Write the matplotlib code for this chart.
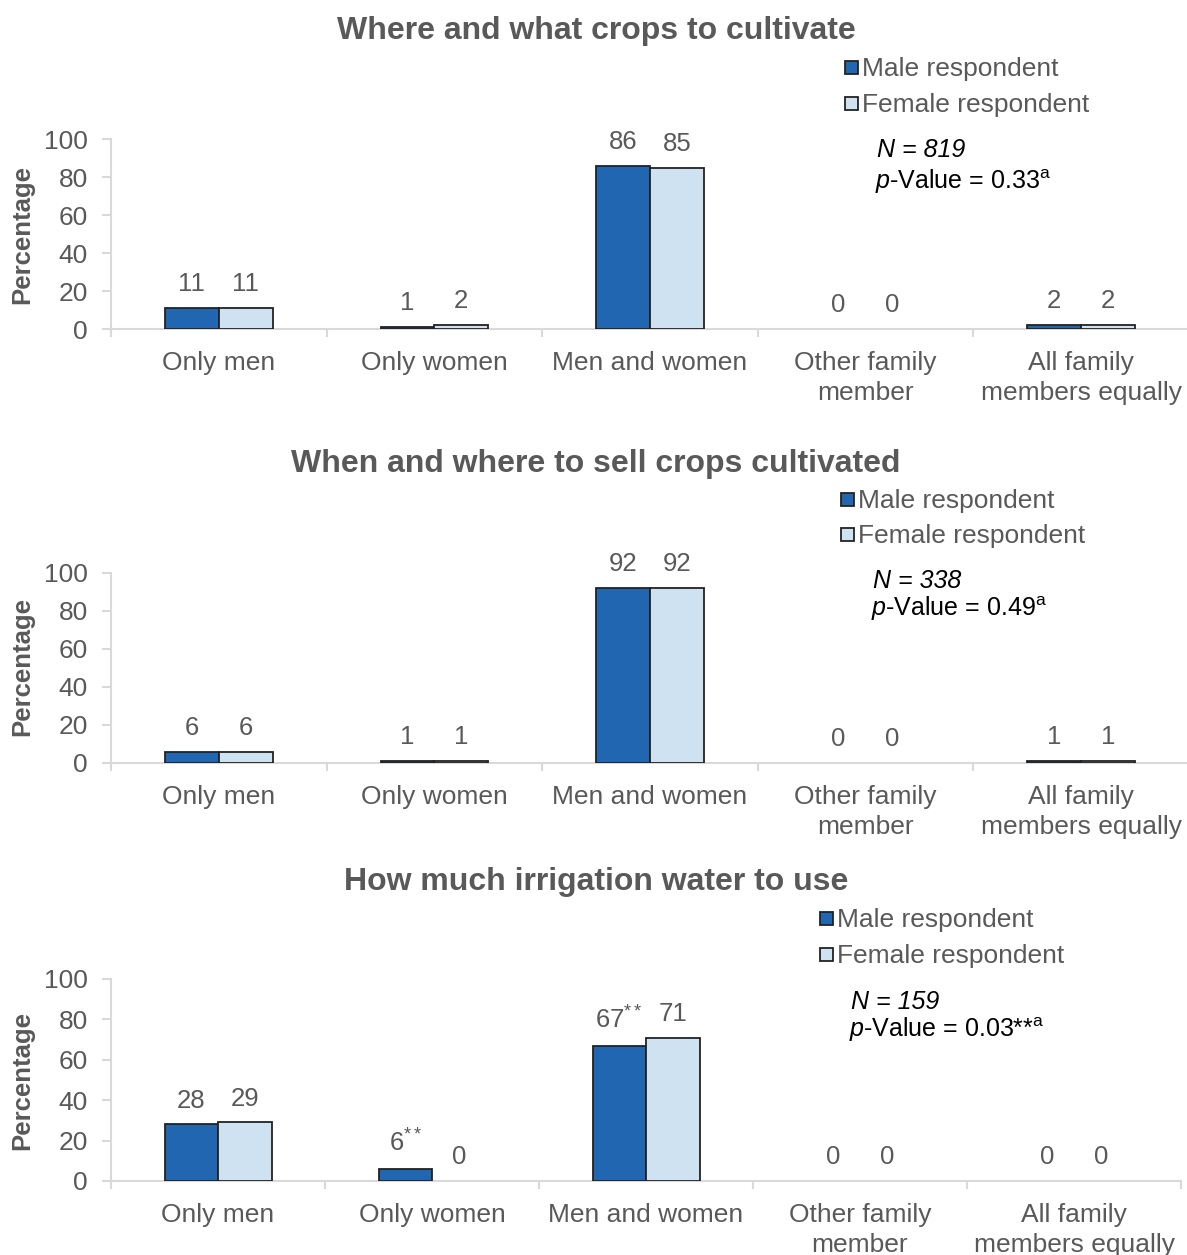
import numpy as np
import matplotlib
matplotlib.use("Agg")
import matplotlib.pyplot as plt

plt.rcParams['font.family'] = ['Liberation Sans', 'DejaVu Sans']
plt.rcParams['mathtext.fontset'] = 'custom'
plt.rcParams['mathtext.rm'] = 'Liberation Sans'
plt.rcParams['mathtext.it'] = 'Liberation Sans:italic'

# data
categories = ["Only men", "Only women", "Men and women", "Other family\nmember",
              "All family\nmembers equally"]
titles = ["Where and what crops to cultivate",
          "When and where to sell crops cultivated",
          "How much irrigation water to use"]
male = [[11, 1, 86, 0, 2],
        [6, 1, 92, 0, 1],
        [28, 6, 67, 0, 0]]
female = [[11, 2, 85, 0, 2],
          [6, 1, 92, 0, 1],
          [29, 0, 71, 0, 0]]
male_labels = [["11", "1", "86", "0", "2"],
               ["6", "1", "92", "0", "1"],
               ["28", "6$^{**}$", "67$^{**}$", "0", "0"]]
female_labels = [["11", "2", "85", "0", "2"],
                 ["6", "1", "92", "0", "1"],
                 ["29", "0", "71", "0", "0"]]
series_names = ["Male respondent", "Female respondent"]
n_values = ["819", "338", "159"]
p_values = ["0.33", "0.49", "0.03"]
p_marks = ["", "", "**"]

W, H = 1187, 1255
fig = plt.figure(figsize=(W / 100, H / 100), dpi=100)

GRAY = '#595959'
AXIS = '#d9d9d9'
EDGE = '#222222'
C_MALE = '#2166b1'
C_FEMALE = '#cfe2f2'
FS = 19

# layout in pixels: (left, right, y0, y100, title_y, ylabel_y, legend_x, legend_y1, legend_y2, n_x, n_y, p_y)
layout = [
    (111, 1189, 329, 139, 31, 234, 851, 69, 105, 877, 150, 182),
    (111, 1189, 763, 573, 464, 667, 847, 501, 536, 873, 581, 609),
    (111, 1181, 1181, 979, 882, 1080, 826, 920, 956, 851, 1002, 1030),
]

for k in range(3):
    left, right, y0, y100, ty, yly, lx, ly1, ly2, nx, ny, py = layout[k]
    ax = fig.add_axes([left / W, 1 - y0 / H, (right - left) / W, (y0 - y100) / H])
    x = np.arange(len(categories))
    w = 0.25
    m = np.array(male[k])
    f = np.array(female[k])
    ax.bar(x - w / 2, m, w, color=C_MALE,
           edgecolor=[EDGE if v > 0 else 'none' for v in m], linewidth=1.3, zorder=3)
    ax.bar(x + w / 2, f, w, color=C_FEMALE,
           edgecolor=[EDGE if v > 0 else 'none' for v in f], linewidth=1.3, zorder=3)
    for i in range(len(categories)):
        ax.annotate(male_labels[k][i], (x[i] - w / 2, m[i]), xytext=(0, 8.5),
                    textcoords='offset points', ha='center', va='bottom',
                    fontsize=18.5, color=GRAY)
        ax.annotate(female_labels[k][i], (x[i] + w / 2, f[i]), xytext=(0, 8.5),
                    textcoords='offset points', ha='center', va='bottom',
                    fontsize=18.5, color=GRAY)

    ax.set_xlim(-0.5, len(categories) - 0.5)
    ax.set_ylim(0, 100)
    ax.set_yticks([0, 20, 40, 60, 80, 100])
    ax.set_xticks(x)
    ax.set_xticklabels(categories, fontsize=FS, color=GRAY, linespacing=1.33)
    ax.set_xticks(np.arange(-0.5, len(categories)), minor=True)
    ax.tick_params(axis='x', which='major', length=0, pad=15.5)
    ax.tick_params(axis='x', which='minor', length=6, color=AXIS, width=1.5)
    ax.tick_params(axis='y', length=6.5, color=AXIS, width=1.5, labelsize=FS,
                   labelcolor=GRAY, pad=10)
    for s in ['top', 'right']:
        ax.spines[s].set_visible(False)
    for s in ['left', 'bottom']:
        ax.spines[s].set_color(AXIS)
        ax.spines[s].set_linewidth(1.5)
    ax.patch.set_alpha(0)

    fig.text(596 / W, 1 - ty / H, titles[k], ha='center', va='center',
             fontsize=23, fontweight='bold', color=GRAY)
    fig.text(22 / W, 1 - yly / H, "Percentage", rotation=90, ha='center',
             va='center', fontsize=18.5, fontweight='bold', color=GRAY)

    # legend
    for color, name, yy in zip([C_MALE, C_FEMALE], series_names, [ly1, ly2]):
        sq = 13
        fig.patches.append(plt.Rectangle(((lx - sq / 2) / W, 1 - (yy - 2 + sq / 2) / H),
                                         sq / W, sq / H, transform=fig.transFigure,
                                         facecolor=color, edgecolor=EDGE, linewidth=1.3))
        fig.text((lx + 11) / W, 1 - yy / H, name, ha='left', va='center',
                 fontsize=FS, color=GRAY)

    fig.text(nx / W, 1 - ny / H, "N = " + n_values[k], ha='left', va='center',
             fontsize=18, style='italic', color='black')
    fig.text((nx - 2) / W, 1 - py / H,
             r"$\mathit{p}$-Value = " + p_values[k] + p_marks[k] + r"$^{\mathrm{a}}$",
             ha='left', va='center', fontsize=18, color='black')

fig.savefig("out.png", dpi=100)
